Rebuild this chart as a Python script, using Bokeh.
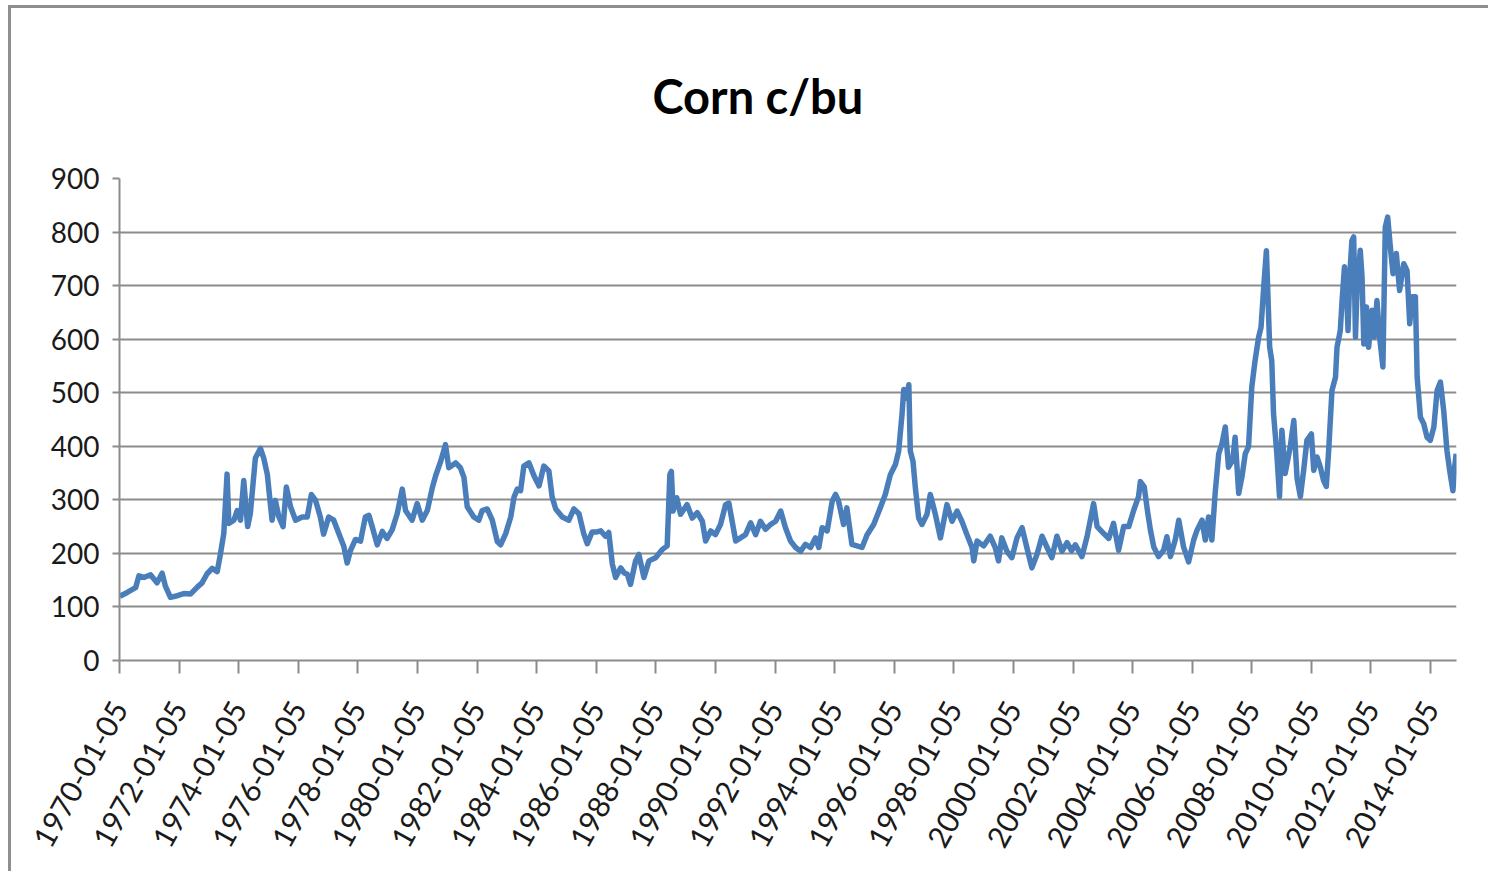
import math
from bokeh.plotting import figure
from bokeh.models import FixedTicker, Range1d, ColumnDataSource
from bokeh.embed import file_html
from bokeh.resources import INLINE

# ---- data (decimal years, cents per bushel) ----
years = [
    1970.01, 1970.26, 1970.54, 1970.65, 1970.82, 1971.04, 1971.26, 1971.43, 1971.54, 1971.71,
    1971.94, 1972.16, 1972.38, 1972.61, 1972.77, 1972.94, 1973.11, 1973.28, 1973.39, 1973.50,
    1973.61, 1973.67, 1973.84, 1973.95, 1974.06, 1974.17, 1974.30, 1974.39, 1974.56, 1974.73,
    1974.84, 1974.96, 1975.12, 1975.23, 1975.35, 1975.49, 1975.60, 1975.74, 1975.91, 1976.13,
    1976.30, 1976.44, 1976.58, 1976.74, 1976.85, 1977.02, 1977.19, 1977.36, 1977.53, 1977.64,
    1977.75, 1977.92, 1978.09, 1978.25, 1978.37, 1978.48, 1978.65, 1978.82, 1978.98, 1979.15,
    1979.32, 1979.49, 1979.60, 1979.82, 1979.99, 1980.16, 1980.33, 1980.50, 1980.61, 1980.78,
    1980.94, 1981.05, 1981.28, 1981.44, 1981.56, 1981.67, 1981.89, 1982.06, 1982.17, 1982.34,
    1982.51, 1982.68, 1982.79, 1982.96, 1983.13, 1983.24, 1983.35, 1983.46, 1983.57, 1983.74,
    1983.91, 1984.08, 1984.24, 1984.41, 1984.52, 1984.64, 1984.86, 1985.08, 1985.25, 1985.42,
    1985.58, 1985.70, 1985.86, 1986.03, 1986.15, 1986.31, 1986.42, 1986.54, 1986.65, 1986.82,
    1986.93, 1987.04, 1987.15, 1987.32, 1987.43, 1987.60, 1987.77, 1987.99, 1988.21, 1988.38,
    1988.47, 1988.52, 1988.58, 1988.70, 1988.83, 1989.05, 1989.22, 1989.39, 1989.56, 1989.67,
    1989.84, 1990.00, 1990.17, 1990.34, 1990.45, 1990.56, 1990.68, 1990.84, 1991.01, 1991.18,
    1991.35, 1991.51, 1991.68, 1991.85, 1992.02, 1992.19, 1992.35, 1992.52, 1992.69, 1992.86,
    1993.02, 1993.19, 1993.36, 1993.47, 1993.58, 1993.75, 1993.92, 1994.03, 1994.13, 1994.30,
    1994.41, 1994.58, 1994.75, 1994.92, 1995.09, 1995.31, 1995.53, 1995.70, 1995.87, 1996.04,
    1996.15, 1996.26, 1996.32, 1996.41, 1996.49, 1996.54, 1996.63, 1996.71, 1996.82, 1996.93,
    1997.10, 1997.21, 1997.38, 1997.55, 1997.77, 1997.94, 1998.11, 1998.27, 1998.44, 1998.61,
    1998.67, 1998.78, 1999.00, 1999.22, 1999.39, 1999.50, 1999.61, 1999.78, 1999.95, 2000.12,
    2000.29, 2000.45, 2000.62, 2000.79, 2000.96, 2001.13, 2001.29, 2001.46, 2001.63, 2001.80,
    2001.95, 2002.08, 2002.30, 2002.47, 2002.58, 2002.69, 2002.81, 2003.03, 2003.20, 2003.36,
    2003.53, 2003.70, 2003.87, 2004.04, 2004.20, 2004.26, 2004.39, 2004.51, 2004.60, 2004.71,
    2004.87, 2005.04, 2005.15, 2005.27, 2005.43, 2005.55, 2005.71, 2005.88, 2006.05, 2006.16,
    2006.33, 2006.44, 2006.55, 2006.66, 2006.77, 2006.89, 2007.00, 2007.11, 2007.22, 2007.36,
    2007.44, 2007.56, 2007.67, 2007.78, 2007.89, 2008.00, 2008.11, 2008.23, 2008.31, 2008.40,
    2008.49, 2008.54, 2008.60, 2008.67, 2008.73, 2008.84, 2008.93, 2009.01, 2009.12, 2009.29,
    2009.41, 2009.52, 2009.63, 2009.74, 2009.85, 2010.00, 2010.08, 2010.19, 2010.30, 2010.41,
    2010.50, 2010.58, 2010.69, 2010.81, 2010.86, 2010.97, 2011.03, 2011.11, 2011.18, 2011.23,
    2011.29, 2011.36, 2011.42, 2011.48, 2011.53, 2011.64, 2011.70, 2011.76, 2011.85, 2011.92,
    2012.04, 2012.11, 2012.20, 2012.29, 2012.40, 2012.48, 2012.56, 2012.65, 2012.74, 2012.85,
    2012.96, 2013.10, 2013.21, 2013.30, 2013.38, 2013.49, 2013.55, 2013.66, 2013.77, 2013.88,
    2013.99, 2014.11, 2014.22, 2014.33, 2014.44, 2014.55, 2014.64, 2014.75, 2014.81, 2014.86,
]
prices = [
    120, 127, 136, 158, 155, 160, 145, 163, 139, 118,
    121, 125, 124, 137, 145, 162, 172, 166, 200, 237,
    348, 256, 262, 280, 262, 336, 250, 274, 378, 396,
    378, 348, 262, 299, 268, 250, 324, 287, 262, 268,
    268, 310, 299, 268, 236, 268, 262, 237, 213, 182,
    205, 226, 223, 268, 271, 250, 216, 241, 228, 244,
    274, 320, 280, 262, 293, 262, 280, 323, 345, 372,
    403, 360, 369, 360, 342, 287, 268, 262, 280, 283,
    262, 222, 216, 237, 268, 305, 320, 317, 363, 369,
    345, 326, 363, 354, 305, 283, 268, 262, 283, 274,
    237, 218, 240, 240, 242, 232, 239, 180, 155, 173,
    164, 161, 142, 186, 198, 155, 186, 192, 207, 214,
    347, 353, 279, 304, 273, 291, 266, 276, 260, 223,
    242, 235, 254, 291, 294, 260, 223, 229, 235, 257,
    235, 260, 245, 254, 260, 279, 248, 223, 211, 204,
    217, 211, 229, 211, 248, 242, 298, 310, 298, 254,
    285, 217, 214, 211, 235, 254, 285, 310, 347, 366,
    391, 459, 506, 490, 515, 391, 372, 322, 266, 254,
    273, 310, 273, 229, 291, 260, 279, 260, 235, 211,
    186, 223, 214, 232, 211, 186, 229, 204, 192, 229,
    248, 211, 173, 198, 232, 211, 192, 232, 204, 220,
    205, 216, 194, 231, 262, 293, 250, 237, 228, 256,
    206, 250, 250, 281, 306, 334, 324, 275, 243, 212,
    194, 206, 231, 194, 225, 262, 212, 184, 225, 243,
    262, 225, 268, 225, 312, 386, 405, 436, 361, 374,
    417, 312, 343, 386, 399, 511, 560, 604, 622, 697,
    765, 684, 585, 560, 461, 386, 306, 430, 349, 399,
    448, 340, 306, 355, 411, 423, 355, 380, 361, 336,
    325, 392, 504, 529, 585, 616, 672, 735, 691, 616,
    722, 784, 791, 604, 691, 766, 716, 591, 660, 585,
    654, 604, 672, 604, 548, 809, 828, 772, 722, 760,
    691, 741, 728, 629, 679, 679, 529, 454, 442, 417,
    411, 436, 504, 520, 467, 392, 355, 317, 362, 386,
]
tick_years = [1970, 1972, 1974, 1976, 1978, 1980, 1982, 1984, 1986, 1988, 1990, 1992,
              1994, 1996, 1998, 2000, 2002, 2004, 2006, 2008, 2010, 2012, 2014]
tick_labels = ["1970-01-05", "1972-01-05", "1974-01-05", "1976-01-05", "1978-01-05",
               "1980-01-05", "1982-01-05", "1984-01-05", "1986-01-05", "1988-01-05",
               "1990-01-05", "1992-01-05", "1994-01-05", "1996-01-05", "1998-01-05",
               "2000-01-05", "2002-01-05", "2004-01-05", "2006-01-05", "2008-01-05",
               "2010-01-05", "2012-01-05", "2014-01-05"]
y_ticks = [0, 100, 200, 300, 400, 500, 600, 700, 800, 900]

GRID = "#8c8c8c"

p = figure(width=1480, height=866, output_backend="svg", toolbar_location=None,
           x_range=Range1d(1970.0, 2014.87), y_range=Range1d(0, 900),
           title="Corn c/bu")
p.min_border_left = 108
p.min_border_right = 35
p.min_border_top = 170
p.min_border_bottom = 214
p.outline_line_color = None
p.background_fill_color = "white"
p.border_fill_color = "white"
p.styles = {"border-top": "3px solid #8f8f8f", "border-left": "3px solid #8f8f8f",
            "margin-left": "8px", "margin-top": "5px"}

p.title.text_font = "Lato"
p.title.text_font_size = "47px"
p.title.text_font_style = "bold"
p.title.text_color = "black"
p.title.align = "left"
p.title.offset = 533
p.title.standoff = 110

src = ColumnDataSource(dict(x=years, y=prices))
p.line("x", "y", source=src, line_color="#4a7ebb", line_width=5.5, line_join="round")

# y axis
p.yaxis.ticker = FixedTicker(ticks=y_ticks)
p.yaxis.axis_line_color = GRID
p.yaxis.axis_line_width = 2
p.yaxis.major_tick_line_color = GRID
p.yaxis.major_tick_line_width = 2
p.yaxis.major_tick_out = 7
p.yaxis.major_tick_in = 0
p.yaxis.minor_tick_line_color = None
p.yaxis.major_label_text_font = "Lato"
p.yaxis.major_label_text_font_size = "28px"
p.yaxis.major_label_text_color = "#1a1a1a"
p.yaxis.major_label_standoff = 13

# x axis
p.xaxis.ticker = FixedTicker(ticks=tick_years)
p.xaxis.major_label_overrides = {y: s for y, s in zip(tick_years, tick_labels)}
p.xaxis.axis_line_color = GRID
p.xaxis.axis_line_width = 2
p.xaxis.major_tick_line_color = GRID
p.xaxis.major_tick_line_width = 2
p.xaxis.major_tick_out = 13
p.xaxis.major_tick_in = 0
p.xaxis.minor_tick_line_color = None
p.xaxis.major_label_orientation = math.radians(61)
p.xaxis.major_label_text_font = "Lato"
p.xaxis.major_label_text_font_size = "30px"
p.xaxis.major_label_text_color = "#1a1a1a"
p.xaxis.major_label_standoff = 30

p.xgrid.grid_line_color = None
p.ygrid.ticker = FixedTicker(ticks=y_ticks)
p.ygrid.grid_line_color = GRID
p.ygrid.grid_line_width = 2

open("out.html", "w").write(file_html(p, INLINE))
